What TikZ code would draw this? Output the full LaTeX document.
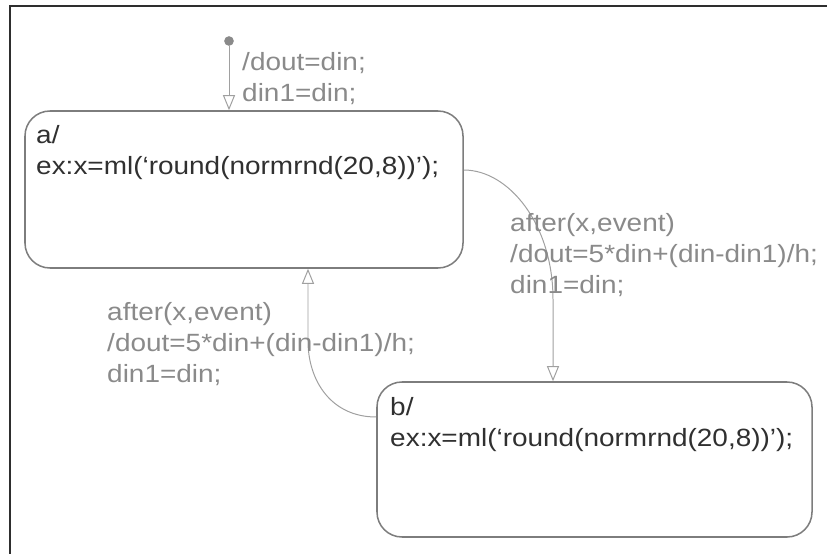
\documentclass[tikz,border=0pt]{standalone}
\usepackage{fontspec}
\setmainfont{Liberation Sans}[FakeStretch=1.12]
\usetikzlibrary{arrows.meta,calc}
\definecolor{stline}{HTML}{7D7D7D}
\definecolor{sttext}{HTML}{303030}
\definecolor{trline}{HTML}{A0A0A0}
\definecolor{trtext}{HTML}{8A8A8A}
\begin{document}
\begin{tikzpicture}[x=0.03cm,y=-0.03cm,
    state/.style={draw=stline,line width=1.3pt,rounded corners=0.75cm,inner sep=0},
    stxt/.style={text=sttext,align=left,anchor=base west,inner sep=0,
        font=\fontsize{21.3}{26.4}\selectfont},% base = dong cuoi
    ltxt/.style={stxt,text=trtext},
    trans/.style={draw=trline,line width=0.85pt,
        -{Triangle[open,width=0.36cm,length=0.45cm]}}]
    \useasboundingbox (0,0) rectangle (827,554);
    \draw[line width=1.7pt,draw=black!82] (10,554)--(10,6)--(827,6);% khung
    % hai trang thai
    \node[state,minimum width=13.14cm,minimum height=4.71cm] (a) at (244,189.5) {};
    \node[state,minimum width=13.05cm,minimum height=4.65cm] (b) at (594.5,459.5) {};
    \node[stxt] (atxt) at (36,174) {a/\\ex:x=ml(`round(normrnd(20,8))');};
    \node[stxt] (btxt) at (390,446) {b/\\ex:x=ml(`round(normrnd(20,8))');};
    % chuyen tiep mac dinh
    \node[circle,fill=trtext,inner sep=0,minimum size=0.29cm] (init) at (229,41) {};
    \draw[trans] (init)--(init |- a.north);
    \node[ltxt] (l0) at (242,101) {/dout=din;\\din1=din;};
    % a -> b
    \draw[trans] ($(a.east)+(0,-19.5)$) .. controls +(45,0) and +(0,-75) .. ($(b.north)+(-41.5,-82)$)
        -- ($(b.north)+(-41.5,0)$);
    \node[ltxt] (lab) at (510,293) {after(x,event)\\/dout=5*din+(din-din1)/h;\\din1=din;};
    % b -> a
    \draw[trans] ($(b.west)+(0,-42.5)$) .. controls +(-45,0) and +(0,40) .. ($(a.south)+(64,72)$)
        -- ($(a.south)+(64,0)$);
    \node[ltxt] (lba) at (107,382) {after(x,event)\\/dout=5*din+(din-din1)/h;\\din1=din;};
\end{tikzpicture}
\end{document}
